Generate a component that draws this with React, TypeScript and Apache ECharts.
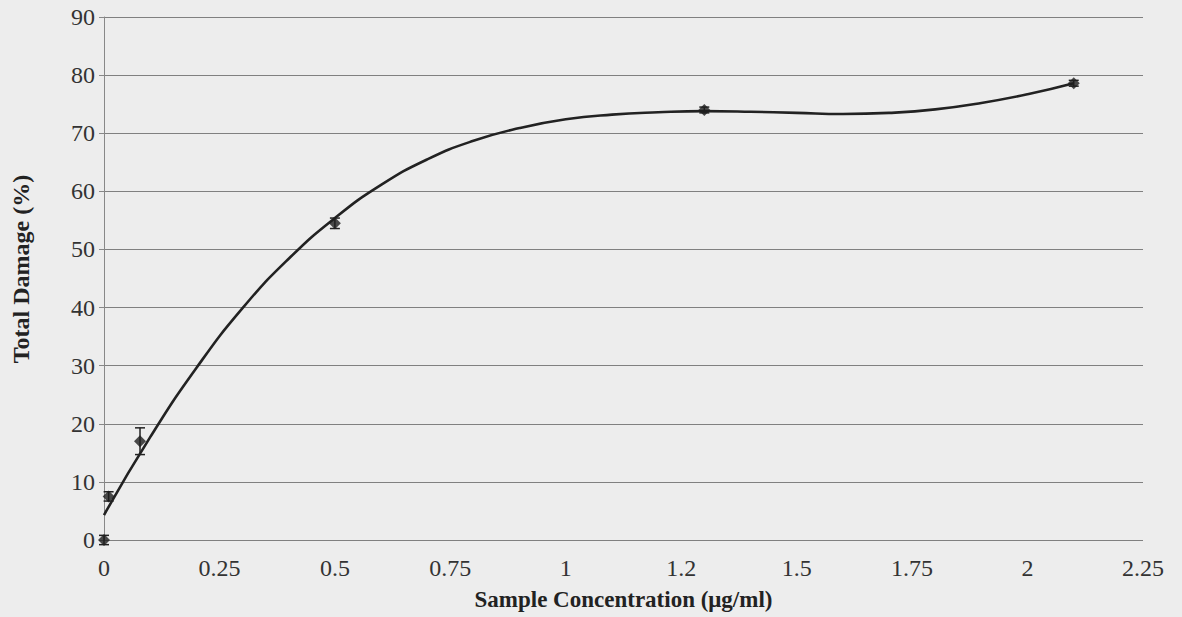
import React, { useEffect, useRef } from "react";
import * as echarts from "echarts";

const concentrations = [0, 0.01, 0.078, 0.5, 1.3, 2.1];
const damage = [0, 7.5, 17, 54.5, 74, 78.6];
const damageErr = [0.8, 0.8, 2.3, 0.9, 0.5, 0.5];

const trendX = [0, 0.1, 0.2, 0.3, 0.4, 0.5, 0.6, 0.7, 0.8, 0.9, 1.0, 1.1, 1.2, 1.3, 1.4, 1.5, 1.6, 1.7, 1.8, 1.9, 2.0, 2.1];
const trendY = [4.3, 17.7, 29.6, 39.9, 48.4, 55.4, 61.1, 65.5, 68.7, 70.9, 72.4, 73.2, 73.6, 73.8, 73.7, 73.5, 73.3, 73.5, 74.1, 75.2, 76.7, 78.6];

const xTickLabels = ["0", "0.25", "0.5", "0.75", "1", "1.2", "1.5", "1.75", "2", "2.25"];
const yTicks = [0, 10, 20, 30, 40, 50, 60, 70, 80, 90];
const xTitle = "Sample Concentration (\u03bcg/ml)";
const yTitle = "Total Damage (%)";

export default function App() {
  const ref = useRef<HTMLDivElement>(null);
  useEffect(() => {
    if (!ref.current) return;
    const chart = echarts.init(ref.current, null, { renderer: "svg" });
    const font = "'Liberation Serif', 'Times New Roman', serif";
    chart.setOption({
      animation: false,
      backgroundColor: "#ededed",
      grid: { left: 104, right: 39, top: 17, bottom: 77, containLabel: false },
      graphic: [
        {
          type: "text",
          x: 21,
          y: 269,
          rotation: Math.PI / 2,
          style: {
            text: yTitle,
            fontFamily: font,
            fontSize: 24,
            fontWeight: "bold",
            fill: "#222",
            align: "center",
            verticalAlign: "middle",
          },
        },
      ],
      xAxis: {
        type: "value",
        min: 0,
        max: 2.25,
        interval: 0.25,
        name: xTitle,
        nameLocation: "middle",
        nameGap: 48,
        nameTextStyle: { fontFamily: font, fontSize: 23, fontWeight: "bold", color: "#222" },
        axisLine: { show: false },
        axisTick: { show: false },
        splitLine: { show: false },
        axisLabel: {
          fontFamily: font,
          fontSize: 24,
          color: "#333",
          margin: 16,
          formatter: (v: number) => xTickLabels[Math.round(v / 0.25)] ?? "",
        },
      },
      yAxis: {
        type: "value",
        min: yTicks[0],
        max: yTicks[yTicks.length - 1],
        interval: 10,
        axisLine: { show: true, lineStyle: { color: "#888", width: 1 } },
        axisTick: { show: true, length: 5, lineStyle: { color: "#888" } },
        splitLine: { show: true, lineStyle: { color: "#808080", width: 1.2 } },
        axisLabel: { fontFamily: font, fontSize: 24, color: "#333", margin: 9 },
      },
      series: [
        {
          type: "line",
          data: trendX.map((x, i) => [x, trendY[i]]),
          smooth: true,
          symbol: "none",
          lineStyle: { color: "#222", width: 2.6 },
          z: 2,
        },
        {
          type: "custom",
          data: concentrations.map((x, i) => [x, damage[i], damageErr[i]]),
          renderItem: (params: any, api: any) => {
            const x = api.value(0);
            const y = api.value(1);
            const e = api.value(2);
            const top = api.coord([x, y + e]);
            const bot = api.coord([x, y - e]);
            const cap = 5;
            const st = { stroke: "#222", lineWidth: 1.5 };
            return {
              type: "group",
              children: [
                { type: "line", shape: { x1: top[0], y1: top[1], x2: bot[0], y2: bot[1] }, style: st },
                { type: "line", shape: { x1: top[0] - cap, y1: top[1], x2: top[0] + cap, y2: top[1] }, style: st },
                { type: "line", shape: { x1: bot[0] - cap, y1: bot[1], x2: bot[0] + cap, y2: bot[1] }, style: st },
              ],
            };
          },
          z: 3,
        },
        {
          type: "scatter",
          data: concentrations.map((x, i) => [x, damage[i]]),
          symbol: "diamond",
          symbolSize: 12,
          itemStyle: { color: "#1e1e1e" },
          z: 4,
        },
      ],
    });
    return () => chart.dispose();
  }, []);
  return (
    <div
      ref={ref}
      style={{ position: "fixed", left: 0, top: 0, width: 1182, height: 617 }}
    />
  );
}
